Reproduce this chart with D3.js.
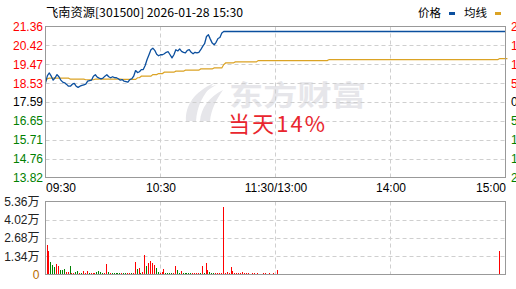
<!DOCTYPE html>
<html>
<head>
<meta charset="utf-8">
<script src="https://cdn.jsdelivr.net/npm/d3@7"></script>
<style>
body { margin: 0; background: #fff; }
svg { display: block; }
</style>
</head>
<body>
<svg id="chart"></svg>
<script>
// ---------------------------- data -----------------------------------
const title = "飞南资源[301500] 2026-01-28 15:30";
const preClose = 17.59;
const priceTicks = [21.36, 20.42, 19.47, 18.53, 17.59, 16.65, 15.71, 14.76, 13.82];
const pctTicks = ["21.43%", "16.07%", "10.71%", "5.36%", "0.00%", "5.36%", "10.71%", "16.07%", "21.43%"];
const volTicks = [0, 1.34, 2.68, 4.02, 5.36];
const timeTicks = [0, 60, 120, 180, 240];
const timeLabels = ["09:30", "10:30", "11:30/13:00", "14:00", "15:00"];

// minute prices 09:30 .. 11:03, then held at limit up (21.11) to 15:00
const priceAM = [
  18.55, 18.91, 19.04, 18.88, 18.68, 18.80, 18.96, 18.85, 18.68, 18.58,
  18.55, 18.47, 18.38, 18.38, 18.48, 18.52, 18.38, 18.32, 18.38, 18.42,
  18.45, 18.48, 18.63, 18.66, 18.68, 18.88, 18.95, 18.83, 18.78, 18.75,
  18.78, 18.88, 18.95, 18.85, 18.80, 18.85, 18.81, 18.80, 18.75, 18.68,
  18.71, 18.63, 18.61, 18.58, 18.71, 18.75, 18.88, 19.16, 19.06, 19.10,
  19.21, 19.21, 19.41, 19.71, 19.95, 20.20, 20.28, 20.17, 19.97, 19.90,
  19.95, 19.95, 20.00, 20.07, 20.10, 19.95, 19.79, 19.95, 20.20, 20.14,
  20.24, 20.12, 20.07, 20.04, 20.17, 20.20, 20.07, 20.00, 20.07, 20.04,
  20.07, 20.20, 20.37, 20.50, 20.86, 20.95, 20.73, 20.53, 20.45, 20.57,
  20.76, 20.81, 21.03, 21.11
];
const limitUp = 21.11;
const price = priceAM.concat(Array(241 - priceAM.length).fill(limitUp));

// average price line as [value, minutes] runs
const avgRuns = [
  [18.62, 1], [18.75, 1], [18.78, 11], [18.73, 8], [18.70, 5], [18.73, 14],
  [18.72, 8], [18.80, 2], [18.88, 6], [18.96, 3], [19.01, 3], [19.08, 6],
  [19.13, 5], [19.18, 8], [19.24, 7], [19.29, 5], [19.46, 1], [19.54, 5],
  [19.59, 12], [19.66, 37], [19.71, 89], [19.76, 5]
];
const avg = [];
avgRuns.forEach(function(r) { for (let k = 0; k < r[1]; k++) avg.push(r[0]); });

// volume per minute (万), morning then afternoon
const volAM = [
  2.20, 1.69, 0.89, 0.72, 0.53, 0.75, 0.60, 0.31, 0.31, 0.39,
  0.17, 0.17, 0.60, 0.10, 0.10, 0.17, 0.24, 0.10, 0.10, 0.24,
  0.10, 0.24, 0.10, 0.10, 0.10, 0.10, 0.17, 0.24, 0.17, 0.10,
  0.10, 0.75, 0.17, 0.10, 0.10, 0.10, 0.10, 0.10, 0.10, 0.10,
  0.10, 0.10, 0.10, 0.10, 0.10, 0.10, 0.89, 0.39, 0.46, 0.10,
  0.17, 1.40, 0.60, 0.82, 0.97, 0.82, 0.68, 0.46, 0.17, 0.10,
  0.17, 0.39, 0.10, 0.10, 0.10, 0.10, 0.10, 0.60, 0.31, 0.10,
  0.24, 0.10, 0.10, 0.10, 0.10, 0.10, 0.10, 0.10, 0.10, 0.10,
  0.10, 0.60, 0.10, 0.82, 0.31, 0.17, 0.10, 0.10, 0.10, 0.10,
  0.10, 0.10, 4.95, 0.10, 0.17, 0.10, 0.53, 0.24, 0.10, 0.10,
  0.10, 0.10, 0.17, 0.08, 0.08, 0.10, 0.06, 0.08, 0.10, 0.06,
  0.08, 0.06, 0.06, 0.08, 0.10, 0.06, 0.08, 0.06, 0.08, 0.06,
  0.30
];
const volPM = [
  0.05, 0.04, 0.05, 0.05, 0.04, 0.05, 0.04, 0.05, 0.05, 0.04,
  0.05, 0.04, 0.05, 0.00, 0.04, 0.05, 0.05, 0.04, 0.05, 0.04,
  0.05, 0.05, 0.04, 0.05, 0.04, 0.05, 0.00, 0.05, 0.04, 0.05,
  0.05, 0.04, 0.05, 0.04, 0.05, 0.05, 0.04, 0.05, 0.00, 0.05,
  0.04, 0.05, 0.05, 0.04, 0.05, 0.04, 0.05, 0.05, 0.04, 0.05,
  0.04, 0.05, 0.05, 0.00, 0.04, 0.05, 0.04, 0.05, 0.05, 0.04,
  0.05, 0.04, 0.05, 0.05, 0.04, 0.05, 0.04, 0.00, 0.05, 0.04,
  0.05, 0.05, 0.04, 0.05, 0.04, 0.05, 0.05, 0.04, 0.05, 0.00,
  0.05, 0.04, 0.05, 0.05, 0.04, 0.05, 0.04, 0.05, 0.05, 0.04,
  0.05, 0.04, 0.05, 0.00, 0.05, 0.04, 0.05, 0.05, 0.04, 0.05,
  0.04, 0.05, 0.05, 0.04, 0.05, 0.04, 0.05, 0.05, 0.04, 0.05,
  0.04, 0.05, 0.05, 0.04, 0.05, 1.69, 0.05, 0.04, 0.05, 0.00
];
const volume = volAM.concat(volPM);
// r = up minute, g = down minute
const volDirAM =
  "rrgggrrggg" + "rrgrrggrgr" + "rrgrrrgggg" + "rrgrgggggr" + "ggrrgrrgrg" +
  "rrgrrrrggr" + "rrggggrrgg" + "rgggggrrrr" + "grgrrgggrr" + "rrrrrrrrrr" +
  "rrrrrrrrrr" + "rrrrrrrrrr" + "r";
const volDir = volDirAM + "r".repeat(volPM.length);

// ---------------------------- chart -----------------------------------
const width = 516;
const height = 289;
const RED = "#ff0000", GREEN = "#008000", BLUE = "#0b4f9e", GOLD = "#dba324";
const numFont = "'Liberation Sans', Arial, 'Noto Sans CJK SC', sans-serif";
const cjkFont = "'Noto Sans CJK SC', 'Liberation Sans', sans-serif";

const svg = d3.select('#chart')
  .attr('width', width)
  .attr('height', height);

const x = d3.scaleLinear().domain([0, 240]).range([45.5, 505.5]);
const y = d3.scaleLinear().domain([13.82, 21.36]).range([177.5, 26.5]);
const yv = d3.scaleLinear().domain([0, 5.36]).range([274.5, 201.5]);

// title + legend
svg.append('text')
  .attr('x', 46).attr('y', 17)
  .attr('font-family', cjkFont).attr('font-size', 12)
  .attr('textLength', 197).attr('lengthAdjust', 'spacingAndGlyphs')
  .attr('fill', '#000')
  .text(title);

svg.append('text').attr('x', 418).attr('y', 17)
  .attr('font-family', cjkFont).attr('font-size', 11.5).attr('fill', '#000').text('价格');
svg.append('rect').attr('x', 449).attr('y', 12).attr('width', 6).attr('height', 3).attr('fill', BLUE);
svg.append('text').attr('x', 464).attr('y', 17)
  .attr('font-family', cjkFont).attr('font-size', 11.5).attr('fill', '#000').text('均线');
svg.append('rect').attr('x', 495).attr('y', 12).attr('width', 6).attr('height', 3).attr('fill', GOLD);

// watermark
const wm = svg.append('g').attr('fill', '#e6e6ea');
wm.append('path').attr('d', 'M186,121 C185,106 194,92 214,83 C203,94 197,106 196,121 Z');
wm.append('path').attr('d', 'M200,121 C201,108 209,97 223,90 C216,100 211,110 210,121 Z');
wm.append('path').attr('d', 'M192,100 C198,92 206,87 216,85 C207,90 200,96 196,104 Z');
wm.append('text')
  .attr('x', 229).attr('y', 106)
  .attr('font-family', cjkFont).attr('font-size', 28).attr('font-weight', 'bold')
  .attr('textLength', 137).attr('lengthAdjust', 'spacingAndGlyphs')
  .text('东方财富');

// grid
function grid(g, yScale, levels, y0, y1) {
  g.selectAll('line.h').data(levels).enter().append('line')
    .attr('x1', x(0)).attr('x2', x(240))
    .attr('y1', d => Math.round(yScale(d)) + 0.5).attr('y2', d => Math.round(yScale(d)) + 0.5);
  g.selectAll('line.v').data([60, 120, 180]).enter().append('line')
    .attr('x1', d => x(d)).attr('x2', d => x(d))
    .attr('y1', y0).attr('y2', y1);
}
const gridG = svg.append('g').attr('stroke', '#cfcfcf').attr('stroke-dasharray', '4,3').attr('stroke-width', 1);
grid(gridG.append('g'), y, priceTicks.slice(1, -1), 26.5, 177.5);
grid(gridG.append('g'), yv, volTicks.slice(1, -1), 201.5, 274.5);

// "当天14%"
svg.append('text')
  .attr('x', 228).attr('y', 132)
  .attr('font-family', cjkFont).attr('font-size', 22)
  .attr('textLength', 97).attr('lengthAdjust', 'spacing')
  .attr('fill', '#e9262e')
  .text('当天14%');

// lines
const line = d3.line().x((d, i) => x(i)).y(d => y(d));
svg.append('path').datum(avg)
  .attr('fill', 'none').attr('stroke', GOLD).attr('stroke-width', 1.2)
  .attr('d', line);
svg.append('path').datum(price)
  .attr('fill', 'none').attr('stroke', BLUE).attr('stroke-width', 1.3)
  .attr('stroke-linejoin', 'round')
  .attr('d', line);

// volume bars
svg.append('g').attr('shape-rendering', 'crispEdges')
  .selectAll('rect').data(volume.map((v, i) => ({ v: v, i: i, dir: volDir[i] })).filter(d => d.v > 0))
  .enter().append('rect')
  .attr('x', d => Math.round(x(d.i)) + 1)
  .attr('width', 1)
  .attr('y', d => Math.min(yv(d.v), yv(0) - 1))
  .attr('height', d => Math.max(1, yv(0) - yv(d.v)))
  .attr('fill', d => d.dir === 'r' ? RED : GREEN);

// frames
svg.append('rect').attr('x', 45.5).attr('y', 26.5).attr('width', 460).attr('height', 151)
  .attr('fill', 'none').attr('stroke', '#999');
svg.append('rect').attr('x', 45.5).attr('y', 201.5).attr('width', 460).attr('height', 73)
  .attr('fill', 'none').attr('stroke', '#999');

// axes
function styleAxis(g) {
  g.select('.domain').remove();
  g.selectAll('.tick line').remove();
  g.selectAll('text').attr('font-family', numFont).attr('font-size', 12);
}
function tickColor(v) {
  return v > preClose ? RED : (v < preClose ? GREEN : '#000');
}

svg.append('g').attr('transform', 'translate(45.5,0)')
  .call(d3.axisLeft(y).tickValues(priceTicks).tickSize(0).tickPadding(2.5).tickFormat(d3.format('.2f')))
  .call(styleAxis)
  .selectAll('text').attr('fill', d => tickColor(d));

svg.append('g').attr('transform', 'translate(505.5,0)')
  .call(d3.axisRight(y).tickValues(priceTicks).tickSize(0).tickPadding(5.5)
    .tickFormat((d, i) => pctTicks[i]))
  .call(styleAxis)
  .selectAll('text').attr('fill', d => tickColor(d));

const xAxisG = svg.append('g').attr('transform', 'translate(0,177.5)')
  .call(d3.axisBottom(x).tickValues(timeTicks).tickSize(0).tickPadding(5.5)
    .tickFormat((d, i) => timeLabels[i]))
  .call(styleAxis);
xAxisG.selectAll('text')
  .attr('fill', '#000')
  .attr('text-anchor', (d, i) => i === 0 ? 'start' : (i === timeTicks.length - 1 ? 'end' : 'middle'));

svg.append('g').attr('transform', 'translate(45.5,0)')
  .call(d3.axisLeft(yv).tickValues(volTicks).tickSize(0).tickPadding(6)
    .tickFormat(d => d === 0 ? '0' : d.toFixed(2) + '万'))
  .call(styleAxis)
  .selectAll('text').attr('fill', d => d === 0 ? '#b86b00' : '#222');
</script>
</body>
</html>
